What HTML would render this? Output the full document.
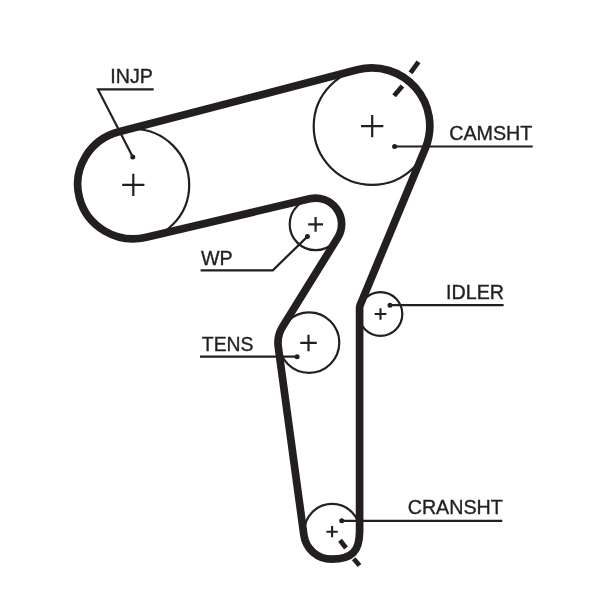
<!DOCTYPE html>
<html><head><meta charset="utf-8"><style>
html,body{margin:0;padding:0;background:#fff;width:600px;height:589px;overflow:hidden}
svg{display:block;will-change:transform}
text{font-family:"Liberation Sans",sans-serif;fill:#231f20;stroke:#231f20;stroke-width:0.35px}
</style></head><body>
<svg width="600" height="589" viewBox="0 0 600 589">
<circle cx="133.3" cy="184.9" r="55.9" fill="none" stroke="#231f20" stroke-width="2.2"/>
<path d="M122.20000000000002,184.9H144.4M133.3,173.8V196.0" stroke="#231f20" stroke-width="2.2" fill="none"/>
<circle cx="372.2" cy="126.3" r="58.5" fill="none" stroke="#231f20" stroke-width="2.2"/>
<path d="M361.05,126.2H383.34999999999997M372.2,115.05V137.35" stroke="#231f20" stroke-width="2.2" fill="none"/>
<circle cx="380.5" cy="314" r="21.8" fill="none" stroke="#231f20" stroke-width="2.2"/>
<path d="M374.65,314H386.35M380.5,308.15V319.85" stroke="#231f20" stroke-width="2.1" fill="none"/>
<circle cx="332.1" cy="531.7" r="27.8" fill="none" stroke="#231f20" stroke-width="2.2"/>
<path d="M326.45000000000005,531.7H337.75M332.1,526.0500000000001V537.35" stroke="#231f20" stroke-width="2.1" fill="none"/>
<circle cx="309.1" cy="342.6" r="30.2" fill="none" stroke="#231f20" stroke-width="2.2"/>
<path d="M300.25,342.9H316.75M308.5,334.65V351.15" stroke="#231f20" stroke-width="2.2" fill="none"/>
<circle cx="315.6" cy="224.3" r="25.9" fill="none" stroke="#231f20" stroke-width="2.2"/>
<path d="M308.20000000000005,224.3H323.0M315.6,216.9V231.70000000000002" stroke="#231f20" stroke-width="2.2" fill="none"/>
<path d="M146.37,237.28 A55.70,54.40 0 0 1 118.94,131.84 L357.18,69.77 A58.00,58.00 0 0 1 425.36,148.16 L360.21,304.93 A8.00,8.00 0 0 0 359.60,308.00 L359.60,531.20 L359.60,531.20 C359.60,551.36 351.76,559.20 331.60,559.20 A28.00,28.00 0 0 1 303.86,534.98 L278.28,347.01 A30.50,30.50 0 0 1 282.57,326.84 L337.71,237.79 A26.00,26.00 0 0 0 309.63,198.79 L146.37,237.28 Z" fill="none" stroke="#231f20" stroke-width="7.7" stroke-linejoin="round"/>
<line x1="394.1" y1="95.7" x2="402.4" y2="86" stroke="#231f20" stroke-width="4.8"/>
<line x1="410.5" y1="72.8" x2="418.5" y2="61.8" stroke="#231f20" stroke-width="4.8"/>
<line x1="340" y1="540.2" x2="346" y2="547.9" stroke="#231f20" stroke-width="4.8"/>
<line x1="353.7" y1="558.8" x2="359.5" y2="565.5" stroke="#231f20" stroke-width="4.8"/>
<path d="M153.7,89.4 L98,89.4 L132.8,157" fill="none" stroke="#231f20" stroke-width="2.2" stroke-linejoin="miter"/>
<circle cx="132.8" cy="157" r="2.5" fill="#231f20"/>
<path d="M394.6,146.5 L532.7,146.5" fill="none" stroke="#231f20" stroke-width="2.2" stroke-linejoin="miter"/>
<circle cx="394.6" cy="146.5" r="2.5" fill="#231f20"/>
<path d="M307.4,236.6 L272.8,270.3 L200.6,270.3" fill="none" stroke="#231f20" stroke-width="2.2" stroke-linejoin="miter"/>
<circle cx="307.4" cy="236.6" r="2.5" fill="#231f20"/>
<path d="M297.1,356.7 L200,356.7" fill="none" stroke="#231f20" stroke-width="2.2" stroke-linejoin="miter"/>
<circle cx="297.1" cy="356.7" r="2.5" fill="#231f20"/>
<path d="M390,305.2 L503.6,305.2" fill="none" stroke="#231f20" stroke-width="2.2" stroke-linejoin="miter"/>
<circle cx="390" cy="305.2" r="2.5" fill="#231f20"/>
<path d="M342,520.8 L502.3,520.8" fill="none" stroke="#231f20" stroke-width="2.2" stroke-linejoin="miter"/>
<circle cx="341.7" cy="520.8" r="2.5" fill="#231f20"/>
<text x="110.2" y="83.2" font-size="19.7">INJP</text>
<text x="449.2" y="139.5" font-size="19.7">CAMSHT</text>
<text x="201" y="264.9" font-size="19.7">WP</text>
<text x="201.8" y="350.5" font-size="19.4">TENS</text>
<text x="446.0" y="299.2" font-size="19.7">IDLER</text>
<text x="407.7" y="514.0" font-size="19.7">CRANSHT</text>
</svg>
</body></html>
